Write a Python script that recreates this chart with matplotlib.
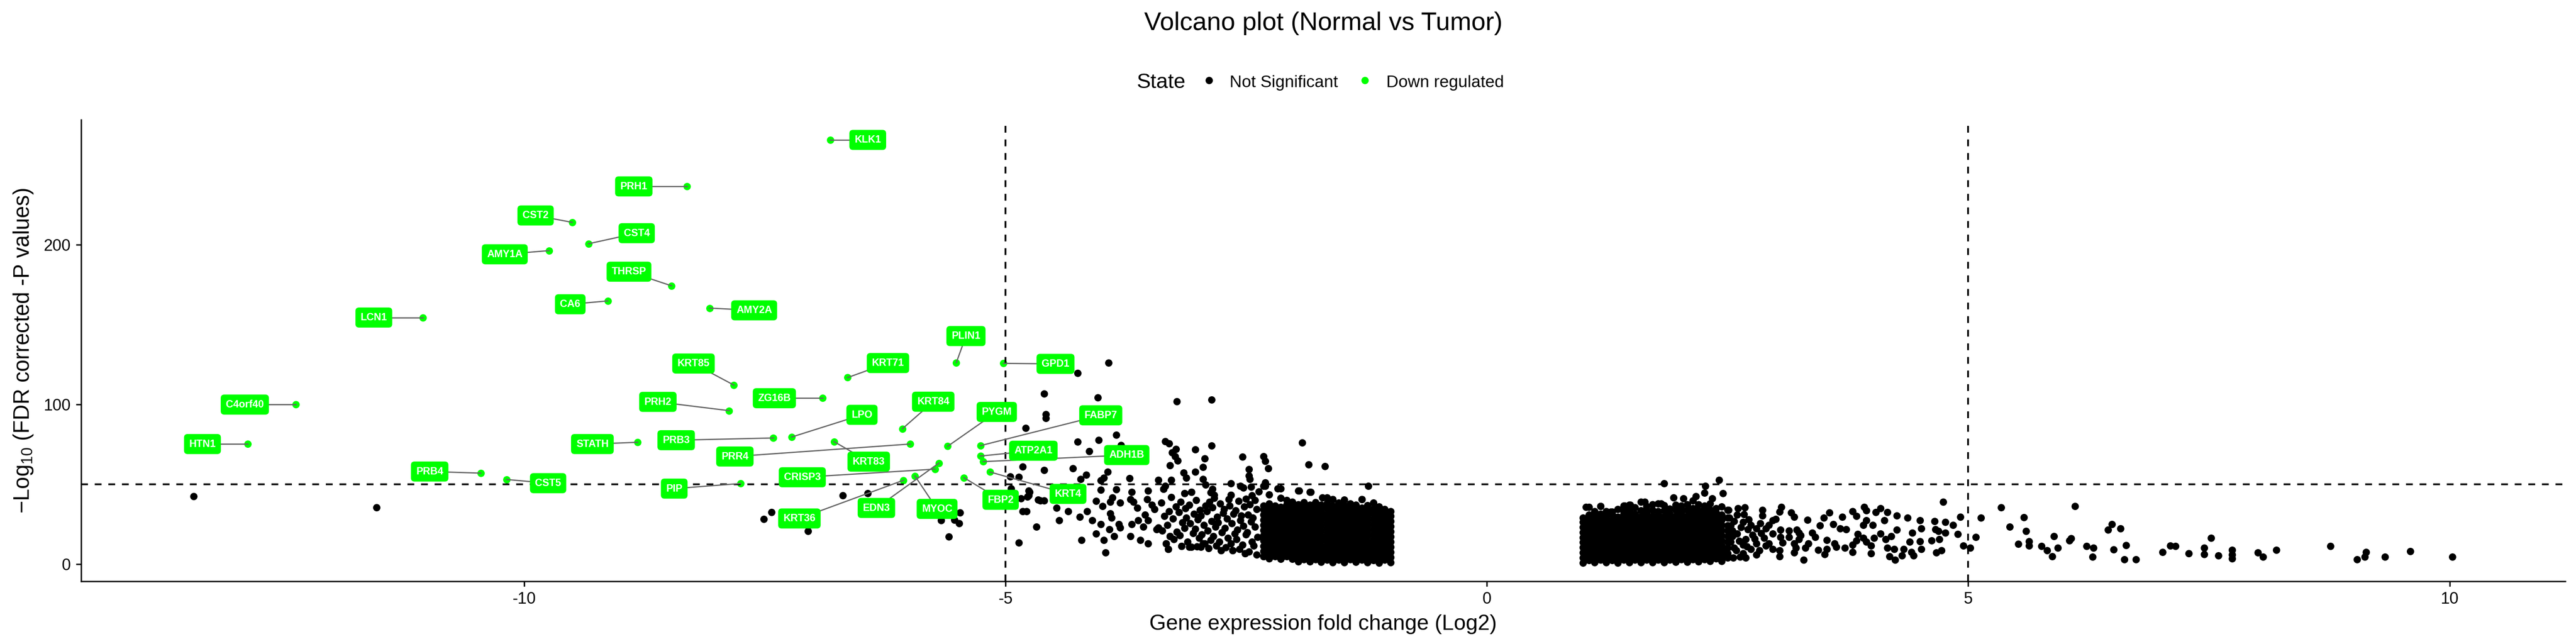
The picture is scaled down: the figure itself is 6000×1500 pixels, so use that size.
import matplotlib
matplotlib.use("Agg")
import matplotlib.pyplot as plt
from matplotlib.lines import Line2D

plt.rcParams['font.family'] = ['Liberation Sans', 'DejaVu Sans']
plt.rcParams['mathtext.fontset'] = 'custom'
plt.rcParams['mathtext.rm'] = 'Liberation Sans'
plt.rcParams['axes.unicode_minus'] = False

# ---- down regulated genes (green, labelled) ----
genes = ["KLK1", "PRH1", "CST2", "CST4", "AMY1A", "THRSP", "CA6", "AMY2A", "LCN1",
         "C4orf40", "HTN1", "PLIN1", "GPD1", "KRT85", "KRT71", "PRH2", "ZG16B", "KRT84",
         "LPO", "PYGM", "FABP7", "STATH", "PRB3", "PRR4", "KRT83", "ATP2A1", "ADH1B",
         "PRB4", "CST5", "PIP", "CRISP3", "EDN3", "KRT36", "MYOC", "FBP2", "KRT4"]
down_fc = [-6.82, -8.31, -9.50, -9.33, -9.74, -8.47, -9.13, -8.07, -11.05,
           -12.37, -12.87, -5.51, -5.02, -7.82, -6.64, -7.87, -6.90, -6.07,
           -7.22, -5.60, -5.26, -8.82, -7.41, -5.99, -6.78, -5.26, -5.23,
           -10.45, -10.18, -7.75, -5.73, -5.69, -6.06, -5.94, -5.43, -5.16]
down_sig = [265.6, 236.5, 214.0, 200.6, 196.3, 174.3, 164.8, 160.3, 154.4,
            99.9, 75.2, 126.2, 125.7, 112.1, 116.8, 96.1, 103.9, 84.8,
            79.6, 73.8, 74.2, 76.3, 79.0, 75.2, 76.7, 67.7, 64.2,
            57.0, 53.0, 50.5, 59.5, 63.3, 52.5, 55.2, 54.1, 57.7]
# repelled label anchors (data units)
label_x = [-6.43, -8.86, -9.88, -8.83, -10.20, -8.91, -9.52, -7.61, -11.56,
           -12.90, -13.34, -5.41, -4.48, -8.24, -6.22, -8.61, -7.40, -5.75,
           -6.49, -5.09, -4.01, -9.29, -8.42, -7.81, -6.42, -4.71, -3.74,
           -10.98, -9.75, -8.44, -7.11, -6.34, -7.14, -5.71, -5.05, -4.35]
label_y = [265.6, 236.5, 218.3, 207.2, 194.0, 183.1, 162.7, 158.9, 154.4,
           99.9, 75.2, 142.8, 125.4, 125.6, 125.9, 101.6, 103.9, 101.7,
           93.5, 95.3, 93.2, 75.2, 77.6, 67.4, 64.2, 71.0, 68.3,
           58.0, 50.7, 47.3, 54.4, 35.2, 28.6, 34.6, 40.3, 44.0]

# ---- not significant genes (black) ----
# scattered, left side
ns_left_x = [-13.43, -11.53, -7.43, -7.51, -7.05, -6.69, -6.43, -5.59, -5.67, -5.53, -5.48, -5.47,
             -3.93, -4.25, -4.60, -4.04, -3.22, -2.86, -4.58, -4.58, -4.79, -3.85, -4.25, -4.03,
             -3.34, -3.30, -2.86, -1.92, -4.13, -3.23, -3.27, -3.24, -3.21, -3.03, -2.54, -2.32,
             -2.30, -2.93, -3.29, -1.85, -1.68, -2.27, -2.47, -2.47, -2.46, -2.95, -3.03, -3.15,
             -3.12, -4.82, -4.60, -4.30, -3.94, -3.98, -4.01, -4.16, -4.22, -3.71, -3.41, -3.28,
             -2.95, -2.92, -2.66, -2.30, -4.95, -4.86, -3.80,
             -4.94, -4.76, -4.76, -4.84, -4.66, -4.60, -4.82, -4.78, -4.68, -4.86, -4.47, -4.44,
             -4.35, -4.23, -4.15, -4.21, -3.96, -4.01, -3.85, -3.69, -3.70, -3.52, -3.53, -3.89,
             -3.91, -3.81, -4.06, -3.99, -4.75, -4.77, -4.64, -3.91, -3.90, -4.10, -4.01, -4.06,
             -3.98, -3.87, -3.92, -3.82, -3.81, -3.70, -3.60, -3.52, -3.69, -3.62, -3.55, -3.52,
             -3.57, -3.48, -3.45, -3.41, -3.43, -3.67, -3.63, -3.33, -3.31, -3.17, -3.09, -2.97,
             -2.95, -3.29, -3.22, -2.76, -2.64, -2.51, -2.32, -2.12, -1.96, -3.34, -3.36, -3.14,
             -3.07, -2.85, -2.83, -2.56, -2.66, -2.45, -2.30, -2.17, -1.95, -1.83, -1.71, -1.60,
             -1.30, -1.23]
ns_left_y = [42.5, 35.5, 32.5, 28.2, 20.6, 42.9, 44.4, 17.2, 27.3, 27.8, 25.5, 32.2,
             126.2, 119.5, 106.7, 104.2, 102.0, 102.9, 93.9, 91.5, 85.3, 81.0, 76.7, 77.8,
             77.0, 75.6, 74.3, 76.1, 70.7, 72.0, 69.8, 67.6, 64.9, 71.8, 67.3, 67.6,
             64.4, 66.2, 61.7, 62.4, 61.3, 59.9, 59.5, 55.5, 53.2, 60.8, 57.9, 57.3,
             54.1, 61.0, 59.0, 59.9, 57.7, 54.1, 52.3, 55.9, 53.2, 53.7, 52.8, 52.8,
             53.2, 49.7, 50.5, 51.0, 54.9, 54.6, 74.5,
             47.4, 46.1, 43.0, 41.2, 40.3, 39.8, 33.1, 33.1, 23.5, 13.4, 35.3, 27.3,
             33.1, 29.5, 33.1, 15.2, 7.2, 46.5, 46.8, 45.2, 40.7, 46.1, 40.7, 41.6,
             38.9, 38.5, 39.4, 36.2, 45.2, 42.1, 39.8, 31.8, 29.1, 27.3, 25.0, 19.2,
             15.2, 17.4, 21.9, 25.0, 22.8, 17.4, 15.2, 13.0, 25.0, 27.3, 30.9, 27.3,
             23.3, 37.1, 34.4, 22.8, 21.9, 38.9, 35.3, 13.0, 9.4, 11.2, 10.7, 10.7,
             13.0, 17.4, 20.1, 8.5, 8.5, 6.7, 4.9, 4.9, 2.2, 48.8, 47.0, 44.3,
             45.2, 47.0, 43.4, 48.8, 43.4, 48.3, 48.8, 47.4, 46.1, 45.2, 41.6, 40.7,
             40.7, 48.8]

# medium-density band of the left cloud (x about -3.4 .. -2.4)
mid_left_x = [-2.39, -2.42, -2.38, -2.41, -2.43, -2.39, -2.41, -2.37,
              -2.47, -2.44, -2.49, -2.45, -2.48, -2.46, -2.44,
              -2.51, -2.54, -2.50, -2.53, -2.55, -2.52, -2.50, -2.53,
              -2.57, -2.60, -2.59, -2.56, -2.61, -2.58,
              -2.64, -2.66, -2.62, -2.65, -2.63, -2.67, -2.66,
              -2.71, -2.69, -2.72, -2.70, -2.73, -2.68,
              -2.76, -2.78, -2.75, -2.79, -2.74, -2.77,
              -2.81, -2.84, -2.82, -2.80, -2.85, -2.83,
              -2.89, -2.87, -2.90, -2.86, -2.91, -2.88, -2.87,
              -2.93, -2.96, -2.94, -2.97, -2.92,
              -3.01, -2.99, -3.03, -3.00, -2.98, -3.02,
              -3.07, -3.05, -3.08, -3.04, -3.09, -3.07,
              -3.11, -3.14, -3.12, -3.13,
              -3.17, -3.19, -3.16, -3.20, -3.18,
              -3.25, -3.22, -3.26, -3.23, -3.14,
              -3.31, -3.33, -3.29, -3.32, -3.30, -3.28,
              -3.37, -3.35, -3.38, -3.36]
mid_left_y = [6.0, 11.5, 17.0, 23.5, 29.0, 34.5, 40.0, 45.5,
              7.8, 14.0, 20.0, 26.5, 31.0, 37.5, 43.0,
              6.7, 12.0, 18.5, 24.0, 30.5, 36.0, 41.0, 47.8,
              9.5, 15.5, 21.5, 27.5, 33.5, 39.5,
              8.5, 13.0, 19.0, 25.5, 31.5, 36.5, 43.4,
              10.5, 16.5, 22.5, 28.5, 34.5, 40.5,
              8.5, 14.0, 20.0, 26.0, 32.0, 38.0,
              11.5, 17.5, 23.5, 29.5, 35.5, 41.5,
              10.0, 15.0, 21.0, 27.0, 33.0, 39.0, 45.0,
              13.0, 18.5, 24.5, 30.5, 36.5,
              11.0, 16.5, 22.0, 28.0, 34.0, 40.0,
              10.7, 19.5, 25.5, 31.5, 37.0, 45.2,
              14.0, 22.5, 29.0, 35.0,
              11.2, 18.0, 26.0, 32.5, 39.0,
              15.5, 20.1, 28.5, 36.0, 44.3,
              9.4, 13.0, 17.4, 24.5, 33.0, 42.0,
              21.0, 30.0, 38.5, 47.0]

# dense left cloud, by column
left_cols = [-1.00, -1.06, -1.12, -1.18, -1.24, -1.30, -1.36, -1.42, -1.48, -1.54, -1.60, -1.66,
             -1.72, -1.78, -1.84, -1.90, -1.96, -2.02, -2.08, -2.14, -2.20, -2.26, -2.32]
left_vals = [
    [1.0, 4.2, 7.5, 10.8, 14.0, 17.3, 20.5, 23.8, 27.0, 30.2, 33.0],
    [2.6, 5.9, 9.1, 12.4, 15.6, 18.9, 22.1, 25.4, 28.6, 31.9, 34.5],
    [0.9, 3.9, 7.1, 10.4, 13.6, 16.8, 20.1, 23.3, 26.7, 29.8, 33.2, 36.0],
    [2.4, 5.6, 8.8, 12.1, 15.3, 18.6, 21.8, 25.1, 28.3, 31.6, 34.8, 38.5],
    [1.1, 4.3, 7.6, 10.9, 14.1, 17.4, 20.6, 23.9, 27.2, 30.4, 33.6, 36.8],
    [2.7, 5.9, 9.2, 12.5, 15.7, 19.0, 22.2, 25.5, 28.8, 32.0, 35.2, 40.7],
    [1.3, 4.5, 7.8, 11.0, 14.3, 17.5, 20.8, 24.0, 27.3, 30.5, 33.8, 37.2],
    [2.9, 6.1, 9.4, 12.6, 15.9, 19.1, 22.4, 25.6, 28.9, 32.1, 35.4, 38.0],
    [1.2, 4.4, 7.7, 10.9, 14.2, 17.4, 20.7, 23.9, 27.2, 30.4, 33.7, 36.9, 40.2],
    [2.8, 6.0, 9.3, 12.5, 15.8, 19.0, 22.3, 25.5, 28.8, 32.0, 35.3, 38.5],
    [1.0, 4.2, 7.5, 10.7, 14.0, 17.2, 20.5, 23.7, 27.0, 30.2, 33.5, 36.7, 40.7],
    [2.6, 5.8, 9.1, 12.3, 15.6, 18.8, 22.1, 25.3, 28.6, 31.8, 35.1, 38.3, 41.6],
    [1.4, 4.6, 7.9, 11.1, 14.4, 17.6, 20.9, 24.1, 27.4, 30.6, 33.9, 37.1],
    [3.0, 6.2, 9.5, 12.7, 16.0, 19.2, 22.5, 25.7, 29.0, 32.2, 35.5, 38.7],
    [1.5, 4.7, 8.0, 11.2, 14.5, 17.7, 21.0, 24.2, 27.5, 30.7, 34.0, 37.2, 45.2],
    [3.1, 6.3, 9.6, 12.8, 16.1, 19.3, 22.6, 25.8, 29.1, 32.3, 35.6, 38.8],
    [1.7, 4.9, 8.2, 11.4, 14.7, 17.9, 21.2, 24.4, 27.7, 30.9, 34.2, 37.4, 46.1],
    [3.3, 6.5, 9.8, 13.0, 16.3, 19.5, 22.8, 26.0, 29.3, 32.5, 35.8, 39.0],
    [4.9, 8.2, 11.4, 14.7, 17.9, 21.2, 24.4, 27.7, 30.9, 34.2, 37.4, 40.0],
    [3.3, 6.5, 9.8, 13.0, 16.3, 19.5, 22.8, 26.0, 29.3, 32.5, 35.8, 41.5, 47.4],
    [4.9, 8.2, 11.4, 14.7, 17.9, 21.2, 24.4, 27.7, 30.9, 34.2, 36.5],
    [3.6, 6.5, 9.8, 13.0, 16.3, 19.5, 22.8, 26.0, 29.3, 32.5, 35.8, 38.0, 43.5],
    [4.9, 8.2, 11.4, 14.7, 17.9, 21.2, 24.4, 27.7, 30.9, 34.2, 36.5, 48.8],
]

# dense right cloud, by column
right_cols = [1.00, 1.06, 1.12, 1.18, 1.24, 1.30, 1.36, 1.42, 1.48, 1.54, 1.60, 1.66, 1.72,
              1.78, 1.84, 1.90, 1.96, 2.02, 2.08, 2.14, 2.20, 2.26, 2.32, 2.38, 2.44, 2.50]
right_vals = [
    [0.9, 4.0, 7.2, 10.4, 13.6, 16.8, 20.0, 23.2, 26.4, 29.1],
    [2.5, 5.7, 8.9, 12.1, 15.3, 18.5, 21.7, 24.9, 28.1, 31.0, 35.8],
    [1.0, 4.2, 7.4, 10.6, 13.8, 17.0, 20.2, 23.4, 26.6, 29.8, 33.0],
    [2.6, 5.8, 9.0, 12.2, 15.4, 18.6, 21.8, 25.0, 28.2, 31.4, 36.2],
    [1.2, 4.4, 7.6, 10.8, 14.0, 17.2, 20.4, 23.6, 26.8, 30.0, 33.0],
    [2.5, 5.7, 8.9, 12.1, 15.3, 18.5, 21.7, 24.9, 28.1, 31.3, 32.7],
    [0.9, 4.1, 7.3, 10.5, 13.7, 16.9, 20.1, 23.3, 26.5, 29.7, 34.5],
    [2.7, 5.9, 9.1, 12.3, 15.5, 18.7, 21.9, 25.1, 28.3, 31.5, 33.1, 36.7],
    [1.1, 4.3, 7.5, 10.7, 13.9, 17.1, 20.3, 23.5, 26.7, 29.9, 33.7, 37.1],
    [2.6, 5.8, 9.0, 12.2, 15.4, 18.6, 21.8, 25.0, 28.2, 31.4, 35.5],
    [1.0, 4.2, 7.4, 10.6, 13.8, 17.0, 20.2, 23.4, 26.6, 29.8, 33.6, 38.9],
    [2.8, 6.0, 9.2, 12.4, 15.6, 18.8, 22.0, 25.2, 28.4, 31.6, 33.2, 36.4],
    [1.2, 4.4, 7.6, 10.8, 14.0, 17.2, 20.4, 23.6, 26.8, 30.0, 33.8, 37.5],
    [2.6, 5.8, 9.0, 12.2, 15.4, 18.6, 21.8, 25.0, 28.2, 31.4, 33.0, 38.0],
    [1.1, 4.3, 7.5, 10.7, 13.9, 17.1, 20.3, 23.5, 26.7, 29.9, 33.7, 36.9],
    [2.7, 5.9, 9.1, 12.3, 15.5, 18.7, 21.9, 25.1, 28.3, 31.5, 34.7],
    [1.3, 4.5, 7.7, 10.9, 14.1, 17.3, 20.5, 23.7, 26.9, 30.1, 33.9, 37.1],
    [2.9, 6.1, 9.3, 12.5, 15.7, 18.9, 22.1, 25.3, 28.5, 31.7, 34.9, 36.5],
    [1.4, 4.6, 7.8, 11.0, 14.2, 17.4, 20.6, 23.8, 27.0, 30.2, 34.0, 37.5],
    [3.0, 6.2, 9.4, 12.6, 15.8, 19.0, 22.2, 25.4, 28.6, 31.8, 35.0, 39.8],
    [1.5, 4.7, 7.9, 11.1, 14.3, 17.5, 20.7, 23.9, 27.1, 30.3, 33.5, 37.3],
    [3.1, 6.3, 9.5, 12.7, 15.9, 19.1, 22.3, 25.5, 28.7, 31.9, 35.1, 36.7],
    [1.8, 5.0, 8.2, 11.4, 14.6, 17.8, 21.0, 24.2, 27.4, 30.6, 34.2, 38.0],
    [3.4, 6.6, 9.8, 13.0, 16.2, 19.4, 22.6, 25.8, 29.0, 32.2, 35.0],
    [2.0, 5.2, 8.4, 11.6, 14.8, 18.0, 21.2, 24.4, 27.6, 30.8, 36.0],
    [4.0, 6.7, 10.3, 13.9, 17.4, 21.0, 24.2, 29.1, 34.0],
]

# scattered, right side
ns_right_x = [1.84, 2.41, 2.27, 2.26, 2.45, 2.17, 1.94, 2.04, 2.34,
              1.03, 1.18, 1.43, 1.49, 1.64, 1.81, 1.29,
              2.51, 2.61, 2.68, 2.67, 2.86, 2.86, 3.06, 3.04, 3.16, 3.19, 3.33, 3.56, 3.50,
              3.69, 3.80, 3.84, 3.92, 3.94, 4.04, 4.09, 4.16, 4.26, 4.37, 4.50, 4.65, 4.76,
              4.84, 4.74, 4.92, 4.89, 5.13, 5.34, 5.43, 5.58, 5.60, 5.52, 5.63, 5.63, 5.76,
              5.82, 5.87, 5.89, 5.93, 5.08, 4.95, 5.02, 4.72, 4.67, 4.50, 4.51, 4.41, 4.62,
              4.70, 4.69, 4.76, 4.66, 4.51, 4.42, 4.39, 4.26, 4.20, 4.14, 4.16, 4.23, 4.33,
              4.18, 4.24, 4.31, 4.43, 3.99, 3.99, 4.09, 4.02, 4.01, 4.13, 3.91, 3.94, 3.85,
              3.84, 3.80, 3.91, 3.94, 3.73, 3.67, 3.72, 3.80, 3.60, 3.61, 3.63, 3.53, 3.53,
              3.51, 3.46, 3.41, 3.38, 3.34, 3.31, 3.29, 3.44, 3.22, 3.24, 3.26, 3.24, 3.19,
              3.21, 3.19, 3.14, 3.14, 3.05, 3.05, 3.07, 3.04, 3.04, 2.97, 3.00, 2.93, 2.90,
              2.97, 2.88, 2.93, 2.97, 2.83, 2.80, 2.69, 2.63, 2.74, 2.80, 2.71, 2.66, 2.57,
              2.76, 2.69, 2.66, 2.80, 2.74, 2.59, 2.66, 2.52, 2.53, 2.55, 2.55, 2.53, 2.57,
              2.50, 2.56, 2.60, 2.62, 2.70, 2.78, 2.85, 2.64, 2.72, 2.60, 2.90, 2.84,
              6.11, 6.05, 6.07, 6.23, 6.29, 6.30, 6.45, 6.49, 6.58, 6.51, 6.64, 6.62, 6.74,
              7.02, 7.10, 7.15, 7.29, 7.45, 7.45, 7.52, 7.60, 7.74, 7.74, 7.74, 8.01, 8.06,
              8.20, 8.76, 9.04, 9.13, 9.12, 9.33, 9.59, 10.03]
ns_right_y = [50.6, 52.8, 48.8, 44.7, 44.3, 42.5, 41.6, 41.2, 41.2,
              35.8, 36.2, 36.7, 37.1, 38.9, 38.0, 32.7,
              34.0, 34.9, 35.4, 31.3, 34.0, 30.4, 35.8, 32.7, 32.2, 29.5, 27.7, 32.2, 29.1,
              29.5, 33.1, 30.0, 35.8, 33.6, 32.6, 34.9, 32.6, 30.4, 29.1, 27.3, 26.9, 26.4,
              24.6, 38.9, 29.5, 18.8, 29.1, 35.4, 23.3, 29.3, 20.6, 12.6, 14.2, 11.6, 11.2,
              8.6, 4.9, 17.5, 10.3, 17.0, 11.6, 10.3, 8.5, 7.2, 14.3, 9.4, 7.6, 14.8,
              15.6, 20.6, 19.7, 21.9, 22.4, 19.7, 13.9, 21.5, 17.4, 15.6, 10.3, 9.4, 9.4,
              4.9, 2.7, 5.4, 5.4, 11.6, 6.7, 19.2, 16.5, 24.6, 27.3, 24.6, 27.3, 18.8,
              14.8, 12.1, 16.5, 13.9, 21.9, 22.4, 10.3, 7.6, 25.1, 13.0, 10.7, 15.2, 9.4,
              6.3, 24.2, 17.0, 19.7, 13.0, 10.3, 2.7, 8.9, 21.5, 19.7, 17.9, 15.6, 13.0,
              10.3, 7.2, 21.0, 17.0, 21.5, 17.0, 13.4, 8.5, 4.9, 27.3, 28.2, 24.6, 22.4,
              19.2, 16.5, 13.0, 9.4, 8.5, 5.8, 4.0, 4.5, 24.6, 22.4, 21.9, 26.4, 26.9,
              18.3, 15.6, 12.1, 13.0, 9.4, 8.5, 6.7, 29.1, 24.2, 21.0, 17.4, 13.9, 10.3,
              6.7, 4.0, 19.0, 14.5, 11.0, 16.0, 19.5, 23.0, 28.0, 31.0, 11.5, 25.5,
              36.2, 14.8, 16.1, 11.2, 4.6, 10.3, 21.5, 25.0, 22.4, 9.2, 11.9, 3.0, 3.0,
              7.6, 11.6, 11.4, 6.7, 10.3, 6.3, 16.4, 5.5, 8.9, 5.8, 3.6, 7.2, 4.7,
              8.8, 11.4, 3.1, 7.6, 4.5, 4.5, 8.0, 4.5]

legend_names = ["Not Significant", "Down regulated"]
legend_colors = ["black", "#00FF00"]


def flatten(cols, vals):
    xs, ys = [], []
    for c, v in zip(cols, vals):
        xs += [c] * len(v)
        ys += v
    return xs, ys


ld_x, ld_y = flatten(left_cols, left_vals)
rd_x, rd_y = flatten(right_cols, right_vals)
ns_x = ns_left_x + mid_left_x + ld_x + rd_x + ns_right_x
ns_y = ns_left_y + mid_left_y + ld_y + rd_y + ns_right_y

fig = plt.figure(figsize=(20, 5), dpi=300)
ax = fig.add_axes([0.0315, 0.0973, 0.9643, 0.7167])

pt_size = 17
ax.scatter(ns_x, ns_y, s=pt_size, c=legend_colors[0], linewidths=0, zorder=2)
ax.scatter(down_fc, down_sig, s=pt_size, c=legend_colors[1], linewidths=0, zorder=2)

# threshold lines
for xv in (-5, 5):
    ax.axvline(xv, color='black', lw=1.0, dashes=(3.8, 3.8), zorder=2.5)
ax.axhline(50, color='black', lw=1.0, dashes=(3.8, 3.8), zorder=2.5)

# labels with segments
for name, px, py, lx, ly in zip(genes, down_fc, down_sig, label_x, label_y):
    ax.plot([px, lx], [py, ly], color='#666666', lw=0.7, zorder=3)
    ax.text(lx, ly, name, ha='center', va='center', color='white', fontweight='bold',
            fontsize=5.7, zorder=4,
            bbox=dict(boxstyle='round,pad=0.5,rounding_size=0.35', fc='#00FF00', ec='none'))

ax.set_xlim(-14.60, 11.20)
ax.set_ylim(-10.75, 278.2)
ax.set_xticks([-10, -5, 0, 5, 10])
ax.set_yticks([0, 100, 200])
ax.tick_params(length=2.8, width=0.8, labelsize=9.1, pad=3, colors='black')
for s in ('top', 'right'):
    ax.spines[s].set_visible(False)
for s in ('left', 'bottom'):
    ax.spines[s].set_linewidth(0.8)

ax.set_xlabel('Gene expression fold change (Log2)', fontsize=12, labelpad=4)
ax.set_ylabel('\u2212Log$_{\\mathregular{10}}$ (FDR corrected -P values)', fontsize=12.2, labelpad=5)

fig.text(0.5137, 0.9533, 'Volcano plot (Normal vs Tumor)', ha='center', va='baseline', fontsize=14.3)

# legend (horizontal, title on the left)
fig.text(0.4413, 0.8633, 'State', ha='left', va='baseline', fontsize=11.7)
leg_dot_x = [0.4693, 0.5298]
leg_txt_x = [0.4773, 0.5382]
for name, col, dx, tx in zip(legend_names, legend_colors, leg_dot_x, leg_txt_x):
    fig.add_artist(Line2D([dx], [0.8753], marker='o', ms=4.1, mfc=col, mec='none',
                          ls='none', transform=fig.transFigure))
    fig.text(tx, 0.8647, name, ha='left', va='baseline', fontsize=9.4)

fig.savefig('out.png', dpi=300)
